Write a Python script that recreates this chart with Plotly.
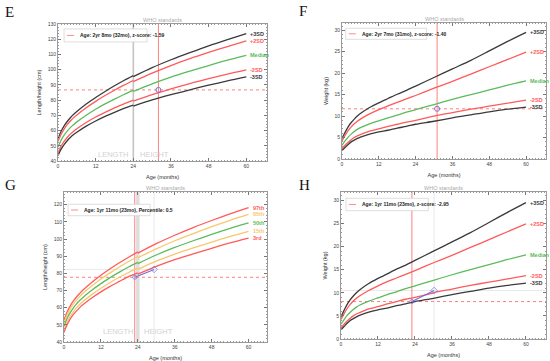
import plotly.graph_objects as go

ages_len = [0, 1, 2, 3, 4, 5, 6, 9, 12, 15, 18, 21, 24, 24, 30, 36, 42, 48, 54, 60]
len_m3 = [43.6, 47.8, 51.0, 53.5, 55.6, 57.4, 58.9, 62.9, 66.3, 69.3, 72.0, 74.5, 76.7, 76.0, 80.1, 83.6, 86.8, 89.8, 92.6, 95.2]
len_m2 = [45.4, 49.8, 53.0, 55.6, 57.8, 59.6, 61.2, 65.3, 68.9, 72.0, 74.9, 77.5, 80.0, 79.3, 83.6, 87.4, 90.9, 94.1, 97.1, 99.9]
len_med = [49.1, 53.7, 57.1, 59.8, 62.1, 64.0, 65.7, 70.1, 74.0, 77.5, 80.7, 83.7, 86.4, 85.7, 90.7, 95.1, 99.0, 102.7, 106.2, 109.4]
len_p2 = [52.9, 57.6, 61.1, 64.0, 66.4, 68.5, 70.3, 75.0, 79.2, 83.0, 86.5, 89.8, 92.9, 92.2, 97.7, 102.7, 107.2, 111.3, 115.2, 118.9]
len_p3 = [54.7, 59.5, 63.2, 66.1, 68.6, 70.7, 72.5, 77.4, 81.7, 85.7, 89.4, 92.9, 96.1, 95.4, 101.3, 106.5, 111.2, 115.7, 119.8, 123.7]

pct_3rd = [45.5, 50.0, 53.3, 55.9, 58.0, 59.9, 61.5, 65.6, 69.2, 72.4, 75.3, 78.1, 80.3, 79.6, 84.1, 88.0, 91.3, 94.6, 97.7, 100.5]
pct_15th = [47.1, 51.7, 55.0, 57.6, 59.9, 61.7, 63.4, 67.6, 71.3, 74.7, 77.7, 80.5, 83.0, 82.3, 87.1, 91.2, 94.8, 98.2, 101.5, 104.5]
pct_50th = [49.1, 53.7, 57.1, 59.8, 62.1, 64.0, 65.7, 70.1, 74.0, 77.5, 80.7, 83.7, 86.4, 85.7, 90.7, 95.1, 99.0, 102.7, 106.2, 109.4]
pct_85th = [51.1, 55.7, 59.2, 62.0, 64.3, 66.3, 68.1, 72.6, 76.7, 80.3, 83.7, 86.9, 89.8, 89.1, 94.3, 99.0, 103.2, 107.2, 110.9, 114.3]
pct_97th = [52.7, 57.4, 60.9, 63.8, 66.1, 68.1, 70.0, 74.7, 78.9, 82.7, 86.2, 89.4, 92.5, 91.8, 97.3, 102.2, 106.7, 110.8, 114.7, 118.3]

ages_wt = [0, 1, 2, 3, 4, 5, 6, 9, 12, 15, 18, 21, 24, 30, 36, 42, 48, 54, 60]
wt_m3 = [2.0, 2.7, 3.4, 4.0, 4.4, 4.8, 5.1, 5.8, 6.3, 6.7, 7.2, 7.6, 8.1, 8.8, 9.6, 10.3, 11.0, 11.6, 12.1]
wt_m2 = [2.4, 3.2, 3.9, 4.5, 5.0, 5.4, 5.7, 6.5, 7.0, 7.6, 8.1, 8.6, 9.0, 10.0, 10.8, 11.6, 12.3, 13.0, 13.7]
wt_med = [3.2, 4.2, 5.1, 5.8, 6.4, 6.9, 7.3, 8.2, 8.9, 9.6, 10.2, 10.9, 11.5, 12.7, 13.9, 15.0, 16.1, 17.2, 18.2]
wt_p2 = [4.2, 5.5, 6.6, 7.5, 8.2, 8.8, 9.3, 10.5, 11.5, 12.4, 13.2, 14.0, 14.8, 16.5, 18.1, 19.8, 21.5, 23.2, 24.9]
wt_p3 = [4.8, 6.2, 7.5, 8.5, 9.3, 10.0, 10.6, 12.0, 13.1, 14.1, 15.1, 16.0, 17.0, 19.0, 21.0, 23.0, 25.2, 27.4, 29.5]

sd_labels = ["+3SD", "+2SD", "Median", "-2SD", "-3SD"]
pct_labels = ["97th", "85th", "50th", "15th", "3rd"]

E_age, E_height = [32], [86.7]
F_age, F_weight = [31], [11.7]
G_ages, G_heights = [23, 29.3], [77.7, 82.3]
H_ages, H_weights = [23, 30.2], [8.1, 10.5]

legend_texts = {
    "E": "Age: 2yr 8mo (32mo), z-score: -1.59",
    "F": "Age: 2yr 7mo (31mo), z-score: -1.40",
    "G": "Age: 1yr 11mo (23mo), Percentile: 0.5",
    "H": "Age: 1yr 11mo (23mo), z-score: -2.95",
}

# ---------------- styling ----------------
W, H = 550, 361
BLACK, RED, GREEN, ORANGE, BLUE = "#3a3a3a", "#ff5a5a", "#5cbb5c", "#f7c870", "#6f6fdc"
XRED = "#ff8080"

panels = {  # pixel boxes of plot areas: x0, x1, y0, y1
    "E": (58, 267, 24, 161),
    "F": (342, 546, 23, 159),
    "G": (64, 267, 192, 342),
    "H": (341, 546, 192, 339),
}
axid = {"E": "", "F": "2", "G": "3", "H": "4"}
xranges = {"E": [0, 66.6], "F": [0, 66.5], "G": [0, 66.0], "H": [0, 66.5]}
yranges = {"E": [40, 130], "F": [0, 31.7], "G": [40, 127.4], "H": [0, 31.8]}
ytitles = {"E": "Length/height (cm)", "F": "Weight (kg)", "G": "Length/height (cm)", "H": "Weight (kg)"}

fig = go.Figure()
layout = dict(width=W, height=H, margin=dict(l=0, r=0, t=0, b=0, autoexpand=False),
              paper_bgcolor="white", plot_bgcolor="white", showlegend=False,
              font=dict(family="Liberation Sans, Arial, sans-serif"))
annotations, shapes = [], []

for p, (x0, x1, y0, y1) in panels.items():
    i = axid[p]
    common = dict(showgrid=False, zeroline=False, showline=True, linecolor="#9a9a9a", linewidth=0.7,
                  mirror="allticks", ticks="inside", ticklen=3, tickcolor="#777", tickwidth=0.6,
                  tickfont=dict(size=5, color="#444"), automargin=False)
    layout["xaxis" + i] = dict(common, domain=[x0 / W, x1 / W], range=xranges[p], anchor="y" + i,
                               tick0=0, dtick=12,
                               minor=dict(ticks="inside", ticklen=1.6, dtick=1, tickcolor="#999", tickwidth=0.5),
                               title=dict(text="Age (months)", font=dict(size=5.5, color="#333"), standoff=7))
    ydt = 10 if p in ("E", "G") else 5
    layout["yaxis" + i] = dict(common, domain=[1 - y1 / H, 1 - y0 / H], range=yranges[p], anchor="x" + i,
                               dtick=ydt,
                               minor=dict(ticks="inside", ticklen=1.6, dtick=ydt / 5, tickcolor="#999", tickwidth=0.5),
                               title=dict(text=ytitles[p], font=dict(size=5.5, color="#333"), standoff=5))
    annotations.append(dict(text="WHO standards", xref="x%s domain" % i, yref="y%s domain" % i,
                            x=0.5, y=1, yanchor="bottom", showarrow=False,
                            font=dict(size=5.5, color="#aaaaaa"), yshift=-1))

xr = lambda p: "x" + axid[p]
yr = lambda p: "y" + axid[p]


def add_curve(p, ages, vals, color, label):
    if ages.count(24) == 2:
        k = ages.index(24)
        segs = [(ages[:k + 1], vals[:k + 1]), (ages[k + 1:], vals[k + 1:])]
    else:
        segs = [(ages, vals)]
    for a, v in segs:
        fig.add_trace(go.Scatter(x=a, y=v, mode="lines", line=dict(color=color, width=1.3, shape="spline", smoothing=0.8),
                                 xaxis=xr(p), yaxis=yr(p), hoverinfo="skip"))
    annotations.append(dict(text="<b>%s</b>" % label, x=ages[-1], y=vals[-1], xref=xr(p), yref=yr(p),
                            xanchor="left", yanchor="middle", xshift=2, showarrow=False,
                            font=dict(size=5.5, color=color)))


sd_colors = [BLACK, RED, GREEN, RED, BLACK]
for vals, c, lab in zip([len_p3, len_p2, len_med, len_m2, len_m3], sd_colors, sd_labels):
    add_curve("E", ages_len, vals, c, lab)
for vals, c, lab in zip([wt_p3, wt_p2, wt_med, wt_m2, wt_m3], sd_colors, sd_labels):
    add_curve("F", ages_wt, vals, c, lab)
    add_curve("H", ages_wt, vals, c, lab)
pct_colors = [RED, ORANGE, GREEN, ORANGE, RED]
for vals, c, lab in zip([pct_97th, pct_85th, pct_50th, pct_15th, pct_3rd], pct_colors, pct_labels):
    add_curve("G", ages_len, vals, c, lab)


def vline(p, x, color, width, dash="solid", layer="below"):
    shapes.append(dict(type="line", xref=xr(p), yref="y%s domain" % axid[p], x0=x, x1=x, y0=0, y1=1,
                       line=dict(color=color, width=width, dash=dash), layer=layer))


def hline(p, y, color, width, dash="solid", layer="below"):
    shapes.append(dict(type="line", xref="x%s domain" % axid[p], yref=yr(p), x0=0, x1=1, y0=y, y1=y,
                       line=dict(color=color, width=width, dash=dash), layer=layer))


vline("E", 24, "#c4c4c4", 1.6)
vline("G", 24, "#dedede", 3.5)
for p, ytxt in (("E", 44.5), ("G", 46.0)):
    annotations.append(dict(text="LENGTH", x=23, y=ytxt, xref=xr(p), yref=yr(p), xanchor="right",
                            showarrow=False, font=dict(size=7.5, color="#d2d2d2")))
    annotations.append(dict(text="HEIGHT", x=25.5, y=ytxt, xref=xr(p), yref=yr(p), xanchor="left",
                            showarrow=False, font=dict(size=7.5, color="#d2d2d2")))

vline("G", G_ages[1], "#e2e2e2", 0.8)
hline("G", G_heights[1], "#e2e2e2", 0.8)
vline("H", H_ages[1], "#e2e2e2", 0.8)
hline("H", H_weights[1], "#e2e2e2", 0.8)

for p, ax, ay in (("E", E_age[0], E_height[0]), ("F", F_age[0], F_weight[0]),
                  ("G", G_ages[0], G_heights[0]), ("H", H_ages[0], H_weights[0])):
    vline(p, ax, XRED, 1.0)
    hline(p, ay, XRED, 1.0, dash="dot")

for p, xs, ys in (("E", E_age, E_height), ("F", F_age, F_weight)):
    fig.add_trace(go.Scatter(x=xs, y=ys, mode="markers", xaxis=xr(p), yaxis=yr(p),
                             marker=dict(symbol="circle-open", size=5, color="#8070d0", line=dict(width=1)),
                             hoverinfo="skip"))
for p, xs, ys in (("G", G_ages, G_heights), ("H", H_ages, H_weights)):
    fig.add_trace(go.Scatter(x=xs, y=ys, mode="lines+markers", xaxis=xr(p), yaxis=yr(p),
                             line=dict(color=BLUE, width=1.1),
                             marker=dict(symbol=["circle-open", "diamond-open"], size=[4, 5], color=BLUE,
                                         line=dict(width=1)),
                             hoverinfo="skip"))

legend_boxes = {  # domain fractions x0, x1, y0, y1
    "E": (0.029, 0.426, 0.869, 0.964),
    "F": (0.018, 0.415, 0.880, 0.961),
    "G": (0.020, 0.424, 0.842, 0.918),
    "H": (0.024, 0.426, 0.873, 0.957),
}
for p, (bx0, bx1, by0, by1) in legend_boxes.items():
    i = axid[p]
    wpx = panels[p][1] - panels[p][0]
    shapes.append(dict(type="rect", xref="x%s domain" % i, yref="y%s domain" % i, x0=bx0, x1=bx1, y0=by0, y1=by1,
                       line=dict(color="#d0d0d0", width=0.7), fillcolor="white", layer="above"))
    ym = (by0 + by1) / 2
    shapes.append(dict(type="line", xref="x%s domain" % i, yref="y%s domain" % i,
                       x0=bx0 + 3 / wpx, x1=bx0 + 10 / wpx, y0=ym, y1=ym,
                       line=dict(color=XRED, width=0.9, dash="dash"), layer="above"))
    annotations.append(dict(text="<b>%s</b>" % legend_texts[p], xref="x%s domain" % i, yref="y%s domain" % i,
                            x=bx0 + 14 / wpx, y=ym, xanchor="left", yanchor="middle", showarrow=False,
                            font=dict(size=5, color="#222")))

for lab, px, py in (("E", 3, 12), ("F", 297, 11), ("G", 3, 185), ("H", 297, 185)):
    annotations.append(dict(text=lab, xref="paper", yref="paper", x=px / W, y=1 - py / H,
                            xanchor="left", yanchor="middle", showarrow=False,
                            font=dict(size=15, color="#111", family="Liberation Serif, DejaVu Serif, serif")))

layout["annotations"] = annotations
layout["shapes"] = shapes
fig.update_layout(**layout)
fig.write_html("out.html", config={"displayModeBar": False},
               post_script="document.body.style.margin='0';document.body.style.overflow='hidden';")
